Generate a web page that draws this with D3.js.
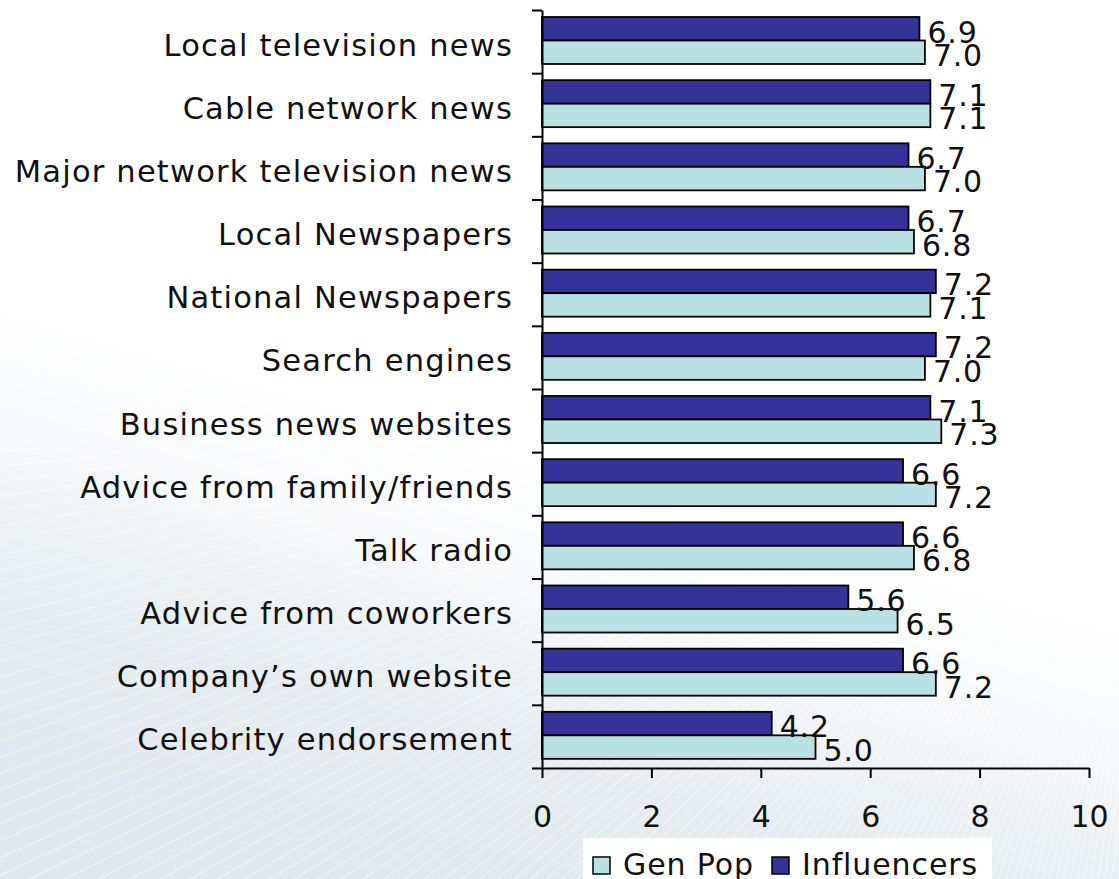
<!DOCTYPE html>
<html>
<head>
<meta charset="utf-8">
<script src="https://cdn.jsdelivr.net/npm/d3@7"></script>
<style>
  html, body { margin: 0; padding: 0; background: #ffffff; }
  svg { display: block; }
  text { font-family: "DejaVu Sans", Verdana, sans-serif; fill: #111; }
</style>
</head>
<body>
<svg id="chart" width="1119" height="879"></svg>
<script>
// Information sources rated by two audiences
const categories = [
  "Local television news",
  "Cable network news",
  "Major network television news",
  "Local Newspapers",
  "National Newspapers",
  "Search engines",
  "Business news websites",
  "Advice from family/friends",
  "Talk radio",
  "Advice from coworkers",
  "Company\u2019s own website",
  "Celebrity endorsement"
];
const genPop      = [7.0, 7.1, 7.0, 6.8, 7.1, 7.0, 7.3, 7.2, 6.8, 6.5, 7.2, 5.0];
const influencers = [6.9, 7.1, 6.7, 6.7, 7.2, 7.2, 7.1, 6.6, 6.6, 5.6, 6.6, 4.2];
const seriesNames = ["Gen Pop", "Influencers"];
const xTicks = [0, 2, 4, 6, 8, 10];

const colors = { "Gen Pop": "#b9e0e2", "Influencers": "#333399" };

const W = 1119, H = 879;
const plot = { left: 542, right: 1089, top: 10, bottom: 768 };

const svg = d3.select("#chart");
const defs = svg.append("defs");

// ---- backdrop: white, with a soft blue-grey sweep and faint rays across the lower part
const g1 = defs.append("linearGradient").attr("id", "sweep")
  .attr("x1", 0.1).attr("y1", 1).attr("x2", 0.3).attr("y2", 0.45);
g1.append("stop").attr("offset", 0).attr("stop-color", "#fff").attr("stop-opacity", 1);
g1.append("stop").attr("offset", 0.45).attr("stop-color", "#fff").attr("stop-opacity", 0.85);
g1.append("stop").attr("offset", 0.8).attr("stop-color", "#fff").attr("stop-opacity", 0.2);
g1.append("stop").attr("offset", 1).attr("stop-color", "#fff").attr("stop-opacity", 0);
const mask = defs.append("mask").attr("id", "sweepMask");
mask.append("rect").attr("width", W).attr("height", H).attr("fill", "url(#sweep)");

svg.append("rect").attr("width", W).attr("height", H).attr("fill", "#ffffff");
const back = svg.append("g").attr("mask", "url(#sweepMask)");
back.append("rect").attr("width", W).attr("height", H).attr("fill", "#e1e8ed");
const focus = [1180, 330];
const rays = back.append("g").attr("stroke", "#ffffff").attr("stroke-opacity", 0.45);
for (let a = 95; a <= 175; a += 0.7) {
  const r = a * Math.PI / 180;
  rays.append("line")
    .attr("x1", focus[0]).attr("y1", focus[1])
    .attr("x2", focus[0] + Math.cos(r) * 1600).attr("y2", focus[1] + Math.sin(r) * 1600)
    .attr("stroke-width", 1.2);
}

// ---- scales
const x = d3.scaleLinear().domain([0, 10]).range([plot.left, plot.right]);
const y0 = d3.scaleBand().domain(categories).range([plot.top, plot.bottom]).padding(0);
const y1 = d3.scaleBand().domain(["Influencers", "Gen Pop"]).range([7, 54]);
const yTicks = d3.scaleLinear().domain([0, categories.length]).range([plot.top, plot.bottom]);

const rows = categories.map((c, i) => ({
  category: c,
  values: [
    { series: "Influencers", value: influencers[i] },
    { series: "Gen Pop", value: genPop[i] }
  ]
}));

// ---- bars
const groups = svg.append("g").selectAll("g").data(rows).join("g")
  .attr("transform", d => `translate(0,${y0(d.category)})`);

groups.selectAll("rect").data(d => d.values).join("rect")
  .attr("x", x(0))
  .attr("y", d => y1(d.series))
  .attr("width", d => x(d.value) - x(0))
  .attr("height", y1.bandwidth())
  .attr("fill", d => colors[d.series])
  .attr("stroke", "#000")
  .attr("stroke-width", 1.8);

// value labels at the bar ends
groups.selectAll("text.val").data(d => d.values).join("text")
  .attr("class", "val")
  .attr("x", d => x(d.value) + 8)
  .attr("y", d => y1(d.series) + y1.bandwidth() + 2)
  .attr("font-size", 30)
  .attr("letter-spacing", 0.8)
  .text(d => d.value.toFixed(1));

// ---- axes
const yAxis = svg.append("g")
  .attr("transform", `translate(${plot.left},0)`)
  .call(d3.axisLeft(yTicks).tickValues(d3.range(categories.length + 1)).tickFormat("").tickSize(10).tickSizeOuter(0));
yAxis.select(".domain").attr("stroke", "#000").attr("stroke-width", 2);
yAxis.selectAll(".tick line").attr("stroke", "#000").attr("stroke-width", 2);

const xAxis = svg.append("g")
  .attr("transform", `translate(0,${plot.bottom})`)
  .call(d3.axisBottom(x).tickValues(xTicks).tickFormat(d3.format("d")).tickSize(10).tickSizeOuter(0).tickPadding(28));
xAxis.select(".domain").attr("stroke", "#000").attr("stroke-width", 2);
xAxis.selectAll(".tick line").attr("stroke", "#000").attr("stroke-width", 2);
xAxis.selectAll(".tick text")
  .attr("font-size", 30)
  .attr("font-family", "DejaVu Sans, Verdana, sans-serif")
  .attr("fill", "#111");

// category labels
svg.append("g").selectAll("text").data(categories).join("text")
  .attr("x", plot.left - 29)
  .attr("y", d => y0(d) + y0.bandwidth() / 2 + 14)
  .attr("text-anchor", "end")
  .attr("font-size", 30.5)
  .attr("letter-spacing", 1.2)
  .text(d => d);

// ---- legend
const legend = svg.append("g").attr("transform", "translate(583,838)");
const legendBox = legend.append("rect").attr("x", 0).attr("y", 0).attr("height", 60).attr("fill", "#ffffff");
let cursor = 10;
seriesNames.forEach(name => {
  legend.append("rect")
    .attr("x", cursor).attr("y", 19).attr("width", 17).attr("height", 17)
    .attr("fill", colors[name]).attr("stroke", "#000").attr("stroke-width", 1.5);
  const t = legend.append("text")
    .attr("x", cursor + 30).attr("y", 37)
    .attr("font-size", 30)
    .attr("letter-spacing", 0.9)
    .text(name);
  cursor += 30 + t.node().getComputedTextLength() + 18;
});
legendBox.attr("width", cursor - 4);
</script>
</body>
</html>
